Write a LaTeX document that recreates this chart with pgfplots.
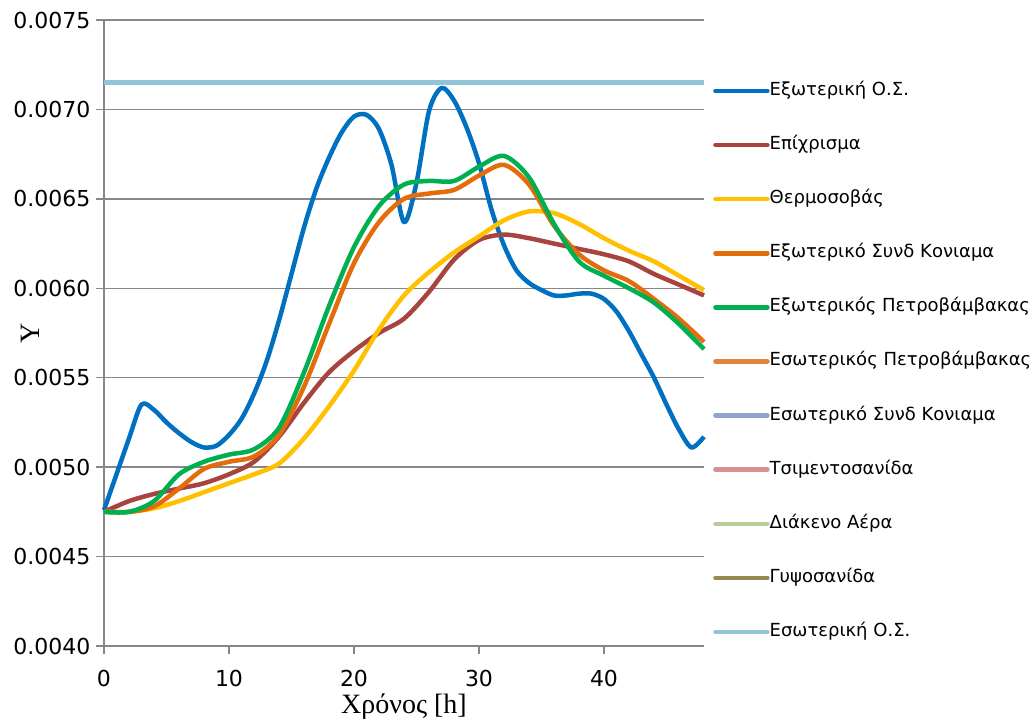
\documentclass[border=0pt]{standalone}
\usepackage{fontspec}
\setmainfont{DejaVu Sans}
\newfontfamily\labelfont{Liberation Serif}
\usepackage{pgfplots}
\usepackage{pgfplotstable}
\pgfplotsset{compat=1.18}

\definecolor{axgray}{HTML}{878787}
\definecolor{cA}{HTML}{0070C0}
\definecolor{cB}{HTML}{A8443F}
\definecolor{cC}{HTML}{FFC000}
\definecolor{cD}{HTML}{E46C0A}
\definecolor{cE}{HTML}{00B050}
\definecolor{cF}{HTML}{E2843E}
\definecolor{cG}{HTML}{8FA4CC}
\definecolor{cH}{HTML}{D69292}
\definecolor{cI}{HTML}{B5CE94}
\definecolor{cJ}{HTML}{948A54}
\definecolor{cK}{HTML}{92C4D8}

% outer surface, hourly
\pgfplotstableread{
t Y
0 0.00476
1 0.00496
2 0.00516
3 0.00535
4 0.00532
5 0.00525
6 0.00519
7 0.00514
8 0.00511
9 0.00512
10 0.00518
11 0.00527
12 0.00541
13 0.00559
14 0.00582
15 0.00608
16 0.00634
17 0.00656
18 0.00673
19 0.00687
20 0.00696
21 0.00697
22 0.00689
23 0.00669
24 0.00637
25 0.00659
26 0.00699
27 0.00712
28 0.00705
29 0.00690
30 0.00670
31 0.00644
32 0.00624
33 0.00610
34 0.00603
35 0.00599
36 0.00596
37 0.00596
38 0.00597
39 0.00597
40 0.00594
41 0.00587
42 0.00576
43 0.00563
44 0.00550
45 0.00535
46 0.00521
47 0.00511
48 0.00517
}\outersurf

% remaining layers, every two hours
\pgfplotstableread{
t render thermo outmortar outwool
0  0.00475 0.00475 0.00475 0.00475
2  0.00481 0.00475 0.00475 0.00475
4  0.00485 0.00477 0.00478 0.00481
6  0.00488 0.00481 0.00488 0.00496
8  0.00491 0.00486 0.00499 0.00503
10 0.00496 0.00491 0.00503 0.00507
12 0.00503 0.00496 0.00506 0.00510
14 0.00517 0.00502 0.00518 0.00522
16 0.00536 0.00516 0.00545 0.00553
18 0.00553 0.00534 0.00580 0.00590
20 0.00565 0.00554 0.00614 0.00623
22 0.00575 0.00577 0.00637 0.00646
24 0.00583 0.00596 0.00650 0.00658
26 0.00598 0.00609 0.00653 0.00660
28 0.00616 0.00620 0.00655 0.00660
30 0.00627 0.00629 0.00663 0.00668
32 0.00630 0.00638 0.00669 0.00674
34 0.00628 0.00643 0.00658 0.00662
36 0.00625 0.00642 0.00635 0.00636
38 0.00622 0.00636 0.00619 0.00615
40 0.00619 0.00628 0.00610 0.00607
42 0.00615 0.00621 0.00604 0.00600
44 0.00608 0.00615 0.00594 0.00592
46 0.00602 0.00607 0.00583 0.00580
48 0.00596 0.00599 0.00570 0.00566
}\layers

\begin{document}
\begin{tikzpicture}
\useasboundingbox (-104bp,-75bp) rectangle (930bp,646bp);
\begin{axis}[
  scale only axis, width=600bp, height=626bp,
  xmin=0, xmax=48, ymin=0.0040, ymax=0.0075,
  axis x line*=bottom, axis y line*=left,
  axis line style={draw=axgray, line width=1.4bp},
  xtick={0,10,20,30,40}, xticklabels={0,10,20,30,40},
  ytick={0.0040,0.0045,0.0050,0.0055,0.0060,0.0065,0.0070,0.0075},
  yticklabels={0.0040,0.0045,0.0050,0.0055,0.0060,0.0065,0.0070,0.0075},
  scaled y ticks=false,
  tick align=outside, major tick length=8bp,
  tick style={draw=axgray, line width=1.4bp},
  ymajorgrids, grid style={draw=axgray, line width=1.4bp},
  ticklabel style={font=\fontsize{22bp}{26bp}\selectfont},
  xticklabel style={yshift=-13bp},
  yticklabel style={xshift=-2bp},
  xlabel={Χρόνος [h]}, ylabel={Y},
  label style={font=\labelfont\fontsize{28bp}{32bp}\selectfont},
  xlabel style={at={(axis description cs:0.5,-0.0974)}, anchor=center},
  ylabel style={at={(axis description cs:-0.1233,0.5)}, anchor=center},
  legend style={at={(1.0150,0.4545)}, anchor=west, draw=none, fill=none,
    font=\fontsize{18bp}{21bp}\selectfont, row sep=38.1bp, column sep=0bp,
    inner sep=0pt, nodes={inner sep=0pt, text height=12.5bp, text depth=3.5bp}},
  legend cell align=left,
  legend image code/.code={\draw[#1, line width=4.5bp, line cap=round] (0bp,0bp) -- (52bp,0bp);},
  every axis plot/.append style={line width=4.5bp, smooth, line join=round},
  clip=false,
]
\addplot[cA] table[x=t, y=Y] {\outersurf};
\addlegendentry{Εξωτερική Ο.Σ.}
\addplot[cB] table[x=t, y=render] {\layers};
\addlegendentry{Επίχρισμα}
\addplot[cC] table[x=t, y=thermo] {\layers};
\addlegendentry{Θερμοσοβάς}
\addplot[cD] table[x=t, y=outmortar] {\layers};
\addlegendentry{Εξωτερικό Συνδ Κονιαμα}
\addplot[cE] table[x=t, y=outwool] {\layers};
\addlegendentry{Εξωτερικός Πετροβάμβακας}
% inner layers, constant
\addplot[cF] coordinates {(0,0.00715) (48,0.00715)};
\addlegendentry{Εσωτερικός Πετροβάμβακας}
\addplot[cG] coordinates {(0,0.00715) (48,0.00715)};
\addlegendentry{Εσωτερικό Συνδ Κονιαμα}
\addplot[cH] coordinates {(0,0.00715) (48,0.00715)};
\addlegendentry{Τσιμεντοσανίδα}
\addplot[cI] coordinates {(0,0.00715) (48,0.00715)};
\addlegendentry{Διάκενο Αέρα}
\addplot[cJ] coordinates {(0,0.00715) (48,0.00715)};
\addlegendentry{Γυψοσανίδα}
\addplot[cK] coordinates {(0,0.00715) (48,0.00715)};
\addlegendentry{Εσωτερική Ο.Σ.}
\end{axis}
\end{tikzpicture}
\end{document}
